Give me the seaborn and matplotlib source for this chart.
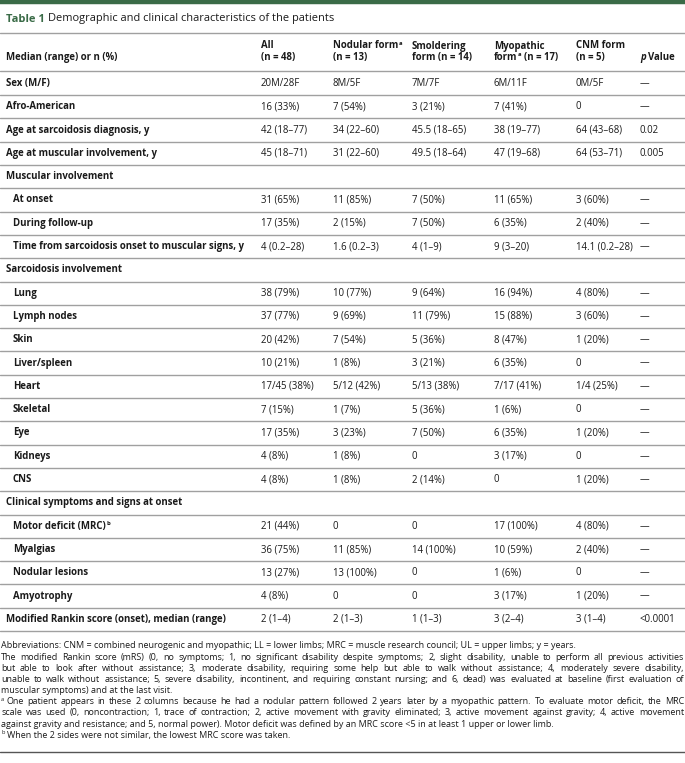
import matplotlib
matplotlib.use("Agg")
import matplotlib.pyplot as plt
import seaborn as sns

sns.set_theme(style="white")
plt.rcParams['font.family'] = ['Open Sans', 'DejaVu Sans']

# ---------------- data ----------------
title_num = "Table 1"
title_text = "Demographic and clinical characteristics of the patients"
# header cells: two lines, each a list of (text, kind) segments
col_headers = [
    ([("All", "n")], [("(n = 48)", "n")]),
    ([("Nodular form", "n"), ("a", "sup")], [("(n = 13)", "n")]),
    ([("Smoldering", "n")], [("form (n = 14)", "n")]),
    ([("Myopathic", "n")], [("form", "n"), ("a", "sup"), (" (n = 17)", "n")]),
    ([("CNM form", "n")], [("(n = 5)", "n")]),
]
first_header = "Median (range) or n (%)"
p_header = [("p", "it"), (" Value", "n")]

# (label segments, level, values)  level 0 = main row, 1 = indented, 2 = section header
rows = [
    ([("Sex (M/F)", "n")], 0, ["20M/28F", "8M/5F", "7M/7F", "6M/11F", "0M/5F", "—"]),
    ([("Afro-American", "n")], 0, ["16 (33%)", "7 (54%)", "3 (21%)", "7 (41%)", "0", "—"]),
    ([("Age at sarcoidosis diagnosis, y", "n")], 0, ["42 (18–77)", "34 (22–60)", "45.5 (18–65)", "38 (19–77)", "64 (43–68)", "0.02"]),
    ([("Age at muscular involvement, y", "n")], 0, ["45 (18–71)", "31 (22–60)", "49.5 (18–64)", "47 (19–68)", "64 (53–71)", "0.005"]),
    ([("Muscular involvement", "n")], 2, None),
    ([("At onset", "n")], 1, ["31 (65%)", "11 (85%)", "7 (50%)", "11 (65%)", "3 (60%)", "—"]),
    ([("During follow-up", "n")], 1, ["17 (35%)", "2 (15%)", "7 (50%)", "6 (35%)", "2 (40%)", "—"]),
    ([("Time from sarcoidosis onset to muscular signs, y", "n")], 1, ["4 (0.2–28)", "1.6 (0.2–3)", "4 (1–9)", "9 (3–20)", "14.1 (0.2–28)", "—"]),
    ([("Sarcoidosis involvement", "n")], 2, None),
    ([("Lung", "n")], 1, ["38 (79%)", "10 (77%)", "9 (64%)", "16 (94%)", "4 (80%)", "—"]),
    ([("Lymph nodes", "n")], 1, ["37 (77%)", "9 (69%)", "11 (79%)", "15 (88%)", "3 (60%)", "—"]),
    ([("Skin", "n")], 1, ["20 (42%)", "7 (54%)", "5 (36%)", "8 (47%)", "1 (20%)", "—"]),
    ([("Liver/spleen", "n")], 1, ["10 (21%)", "1 (8%)", "3 (21%)", "6 (35%)", "0", "—"]),
    ([("Heart", "n")], 1, ["17/45 (38%)", "5/12 (42%)", "5/13 (38%)", "7/17 (41%)", "1/4 (25%)", "—"]),
    ([("Skeletal", "n")], 1, ["7 (15%)", "1 (7%)", "5 (36%)", "1 (6%)", "0", "—"]),
    ([("Eye", "n")], 1, ["17 (35%)", "3 (23%)", "7 (50%)", "6 (35%)", "1 (20%)", "—"]),
    ([("Kidneys", "n")], 1, ["4 (8%)", "1 (8%)", "0", "3 (17%)", "0", "—"]),
    ([("CNS", "n")], 1, ["4 (8%)", "1 (8%)", "2 (14%)", "0", "1 (20%)", "—"]),
    ([("Clinical symptoms and signs at onset", "n")], 2, None),
    ([("Motor deficit (MRC)", "n"), ("b", "sup")], 1, ["21 (44%)", "0", "0", "17 (100%)", "4 (80%)", "—"]),
    ([("Myalgias", "n")], 1, ["36 (75%)", "11 (85%)", "14 (100%)", "10 (59%)", "2 (40%)", "—"]),
    ([("Nodular lesions", "n")], 1, ["13 (27%)", "13 (100%)", "0", "1 (6%)", "0", "—"]),
    ([("Amyotrophy", "n")], 1, ["4 (8%)", "0", "0", "3 (17%)", "1 (20%)", "—"]),
    ([("Modified Rankin score (onset), median (range)", "n")], 0, ["2 (1–4)", "2 (1–3)", "1 (1–3)", "3 (2–4)", "3 (1–4)", "<0.0001"]),
]

# footnote lines: (superscript prefix, text, justified?)
footnotes = [
    ("", "Abbreviations: CNM = combined neurogenic and myopathic; LL = lower limbs; MRC = muscle research council; UL = upper limbs; y = years.", False),
    ("", "The modified Rankin score (mRS) (0, no symptoms; 1, no significant disability despite symptoms; 2, slight disability, unable to perform all previous activities", True),
    ("", "but able to look after without assistance; 3, moderate disability, requiring some help but able to walk without assistance; 4, moderately severe disability,", True),
    ("", "unable to walk without assistance; 5, severe disability, incontinent, and requiring constant nursing; and 6, dead) was evaluated at baseline (first evaluation of", True),
    ("", "muscular symptoms) and at the last visit.", False),
    ("a", "One patient appears in these 2 columns because he had a nodular pattern followed 2 years later by a myopathic pattern. To evaluate motor deficit, the MRC", True),
    ("", "scale was used (0, noncontraction; 1, trace of contraction; 2, active movement with gravity eliminated; 3, active movement against gravity; 4, active movement", True),
    ("", "against gravity and resistance; and 5, normal power). Motor deficit was defined by an MRC score <5 in at least 1 upper or lower limb.", False),
    ("b", "When the 2 sides were not similar, the lowest MRC score was taken.", False),
]

# ---------------- layout ----------------
W, H = 685, 763
fig = plt.figure(figsize=(W / 100, H / 100), dpi=100)
ax = fig.add_axes([0, 0, 1, 1])
ax.set_xlim(0, W)
ax.set_ylim(H, 0)
ax.axis("off")
renderer = fig.canvas.get_renderer()

green = "#3a6b47"
text_c = "#1a1a1a"
line_c = "#a0a0a0"
fs = 6.9
fs_foot = 6.5


def width_of(t):
    return t.get_window_extent(renderer).width


def space_w(size, weight="normal"):
    a = ax.text(0, 0, "x x", fontsize=size, fontweight=weight)
    b = ax.text(0, 0, "xx", fontsize=size, fontweight=weight)
    w = width_of(a) - width_of(b)
    a.remove(); b.remove()
    return w


def draw_segs(x, y, segs, size, weight="normal", color=text_c):
    sp = space_w(size, weight)
    for txt, kind in segs:
        lead = len(txt) - len(txt.lstrip(" "))
        x += lead * sp
        txt = txt.lstrip(" ")
        if kind == "sup":
            t = ax.text(x + 0.5, y - size * 0.42, txt, fontsize=size * 0.62,
                        fontweight=weight, va="center", ha="left", color=color)
        else:
            t = ax.text(x, y, txt, fontsize=size, fontweight=weight,
                        style="italic" if kind == "it" else "normal",
                        va="center", ha="left", color=color)
        x += width_of(t) + (0.5 if kind == "sup" else 0)
    return x


# top rule and title
ax.axhline(1.5, color=green, lw=3.2)
ax.text(6, 19, title_num, color=green, fontsize=8.0, fontweight="bold", va="center", ha="left")
ax.text(48, 19, title_text, color=text_c, fontsize=7.9, va="center", ha="left")
ax.axhline(33, color=line_c, lw=1.0)

# header
col_x = [261, 333, 412, 494, 576]
p_x = 640
ax.text(6, 57.5, first_header, fontsize=fs, fontweight="bold", va="center", color=text_c)
for x, (h1, h2) in zip(col_x, col_headers):
    draw_segs(x, 46, h1, fs, "bold")
    draw_segs(x, 57.5, h2, fs, "bold")
draw_segs(p_x, 57.5, p_header, fs, "bold")
ax.axhline(70.5, color=line_c, lw=1.0)

# body
y0, dy = 83.5, 23.3
for i, (label, level, vals) in enumerate(rows):
    y = y0 + i * dy
    lx = 13 if level == 1 else 6
    draw_segs(lx, y, label, fs, "bold")
    if vals:
        for x, v in zip(col_x + [p_x], vals):
            ax.text(x, y, v, fontsize=fs, va="center", color=text_c)
    ax.axhline(y + dy / 2, color=line_c, lw=1.0)

# footnotes (justified where the original is)
fy0, fdy = 646, 11.15
left, right = 1, 684
for i, (sup, line, just) in enumerate(footnotes):
    y = fy0 + i * fdy
    x = left
    if sup:
        t = ax.text(x, y - 2.6, sup, fontsize=fs_foot * 0.62, va="center", color=text_c)
        x += width_of(t) + space_w(fs_foot)
    if just:
        words = line.split(" ")
        ts = [ax.text(0, y, w, fontsize=fs_foot, va="center", color=text_c) for w in words]
        ws = [width_of(t) for t in ts]
        gap = (right - x - sum(ws)) / (len(words) - 1)
        for t, w in zip(ts, ws):
            t.set_x(x)
            x += w + gap
    else:
        ax.text(x, y, line, fontsize=fs_foot, va="center", color=text_c)

ax.axhline(752, color="#555555", lw=1.0)

fig.savefig("out.png", dpi=100, facecolor="white")
